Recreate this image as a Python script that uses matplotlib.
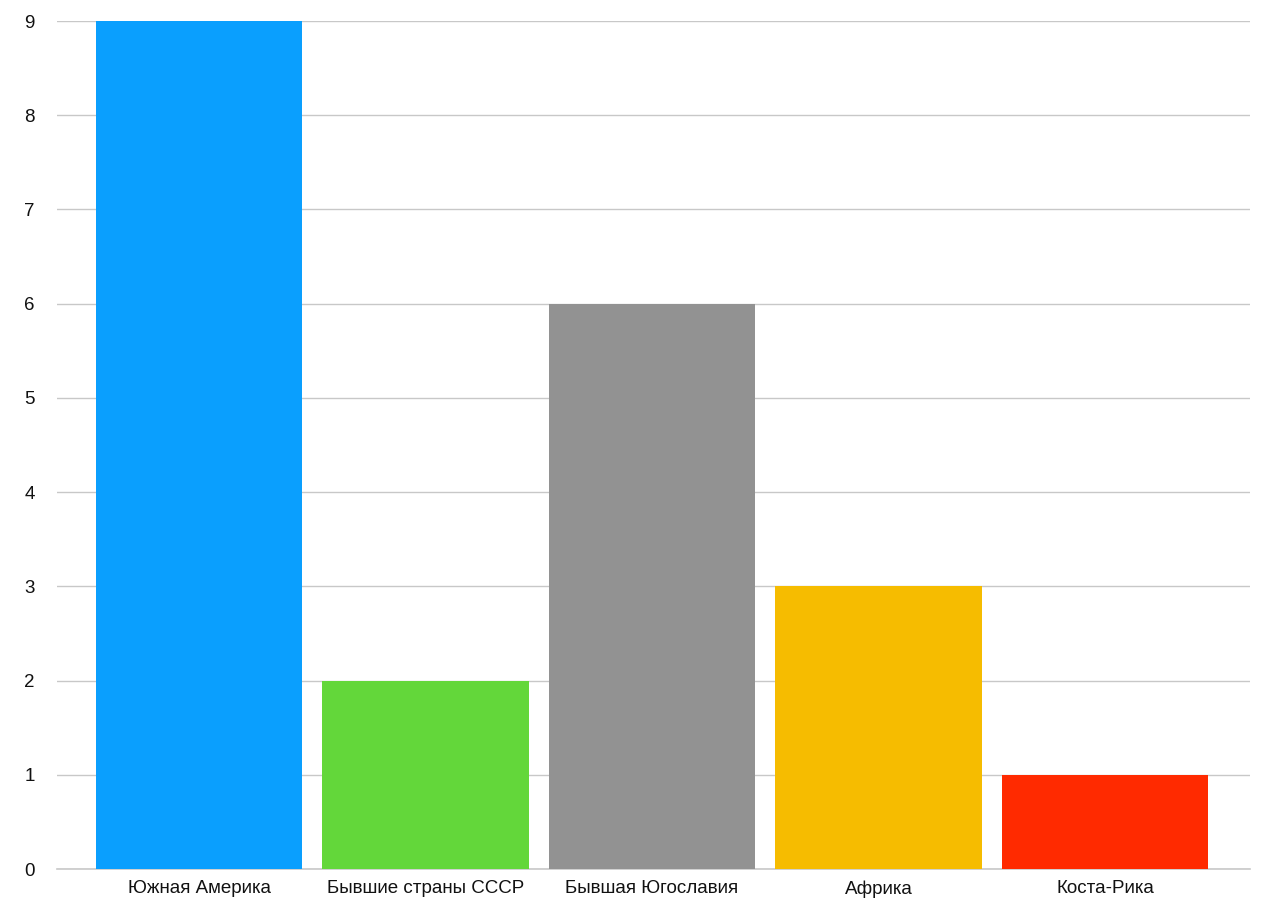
import matplotlib
matplotlib.use("Agg")
import matplotlib.pyplot as plt

categories = ["Южная Америка", "Бывшие страны СССР", "Бывшая Югославия", "Африка", "Коста-Рика"]
values = [9, 2, 6, 3, 1]
colors = ["#0A9FFE", "#63D73A", "#929292", "#F6BC00", "#FF2A00"]
yticks = list(range(0, 10))

plt.rcParams['font.family'] = ['Liberation Sans', 'DejaVu Sans']

fig = plt.figure(figsize=(12.8, 9.18), dpi=100)
ax = fig.add_axes([57/1280, 1-869/918, (1250-57)/1280, (869-21)/918])

x = list(range(len(categories)))
ax.bar(x, values, width=0.91, color=colors, zorder=3)
ax.set_xlim(-0.627, 4.64)
ax.set_ylim(0, 9)
ax.set_yticks(yticks)
ax.set_xticks(x)
ax.set_xticklabels(categories)
ax.grid(axis='y', color='#C8C8C8', linewidth=1, zorder=0)
ax.set_axisbelow(True)
for s in ['top', 'right', 'left', 'bottom']:
    ax.spines[s].set_visible(False)
ax.axhline(0, color='#C8C8C8', linewidth=1.2, zorder=2, clip_on=False)
ax.tick_params(axis='both', length=0, labelsize=13.5, labelcolor='#111111')
ax.tick_params(axis='y', pad=16)
ax.tick_params(axis='x', pad=8)

fig.savefig("out.png", dpi=100)
